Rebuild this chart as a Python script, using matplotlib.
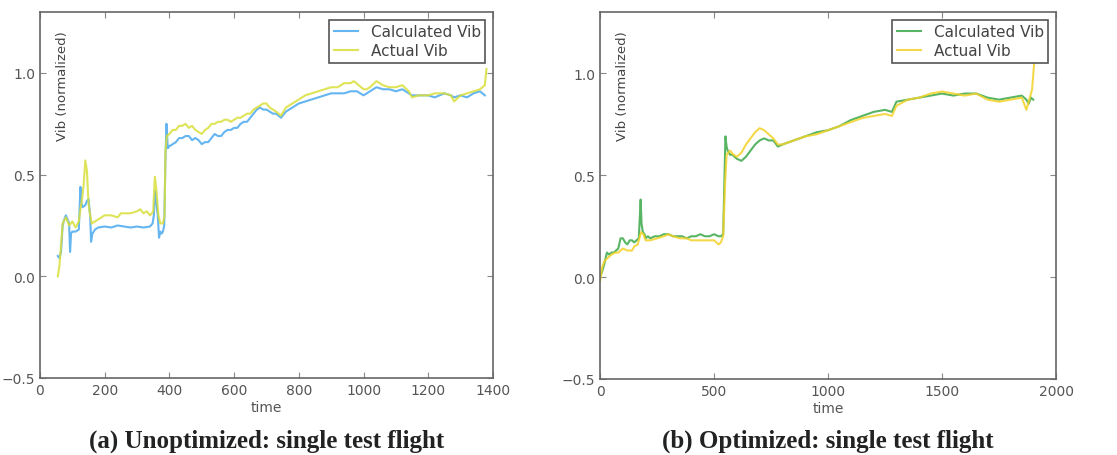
import matplotlib
matplotlib.use("Agg")
import matplotlib.pyplot as plt

# ---------------- data ----------------
a_calc_t = [55, 60, 65, 70, 75, 80, 85, 90, 93, 96, 100, 110, 120, 125, 128, 132, 140, 145, 150, 155, 158, 162,
            170, 180, 200, 220, 240, 260, 280, 300, 320, 340, 348, 352, 356, 360, 364, 368, 372, 376, 380, 384,
            388, 391, 395, 400, 410, 420, 430, 440, 450, 460, 470, 480, 490, 500, 510, 520, 530, 540, 550, 560,
            570, 580, 590, 600, 610, 620, 630, 640, 650, 660, 670, 680, 690, 700, 710, 720, 730, 745, 760, 770,
            780, 800, 820, 840, 860, 880, 900, 920, 940, 960, 980, 990, 1000, 1010, 1020, 1040, 1060, 1080, 1100,
            1120, 1140, 1150, 1170, 1200, 1220, 1250, 1270, 1280, 1300, 1320, 1340, 1360, 1375]
a_calc_v = [0.10, 0.09, 0.12, 0.25, 0.28, 0.30, 0.28, 0.26, 0.12, 0.21, 0.22, 0.22, 0.23, 0.44, 0.36, 0.34, 0.35,
            0.37, 0.38, 0.30, 0.17, 0.21, 0.23, 0.24, 0.245, 0.24, 0.25, 0.245, 0.24, 0.245, 0.24, 0.245, 0.26,
            0.30, 0.42, 0.36, 0.30, 0.19, 0.22, 0.21, 0.22, 0.25, 0.60, 0.75, 0.63, 0.64, 0.65, 0.66, 0.68, 0.68,
            0.69, 0.69, 0.67, 0.68, 0.67, 0.65, 0.66, 0.66, 0.68, 0.70, 0.69, 0.69, 0.71, 0.72, 0.72, 0.73, 0.73,
            0.75, 0.76, 0.76, 0.78, 0.80, 0.82, 0.83, 0.82, 0.82, 0.81, 0.80, 0.80, 0.78, 0.81, 0.82, 0.83, 0.85,
            0.86, 0.87, 0.88, 0.89, 0.90, 0.90, 0.90, 0.91, 0.91, 0.90, 0.89, 0.90, 0.91, 0.93, 0.92, 0.92, 0.91,
            0.92, 0.90, 0.89, 0.89, 0.89, 0.88, 0.90, 0.89, 0.88, 0.89, 0.88, 0.90, 0.91, 0.89]
a_act_t = [55, 60, 65, 70, 80, 90, 100, 110, 120, 125, 130, 135, 140, 145, 150, 155, 160, 170, 180, 190, 200, 220,
           240, 250, 260, 280, 300, 310, 320, 330, 340, 346, 350, 355, 360, 366, 372, 380, 385, 388, 392, 400, 410,
           420, 430, 440, 450, 460, 470, 480, 490, 500, 510, 520, 530, 540, 550, 560, 570, 580, 590, 600, 610, 620,
           630, 640, 650, 660, 670, 680, 690, 700, 710, 720, 730, 745, 760, 770, 780, 800, 820, 840, 860, 880, 900,
           920, 940, 960, 970, 985, 1000, 1010, 1020, 1040, 1060, 1080, 1100, 1120, 1140, 1150, 1170, 1200, 1220,
           1250, 1270, 1280, 1300, 1320, 1340, 1360, 1375, 1380]
a_act_v = [0.0, 0.05, 0.15, 0.26, 0.29, 0.25, 0.27, 0.24, 0.27, 0.33, 0.38, 0.45, 0.57, 0.52, 0.36, 0.30, 0.26,
           0.27, 0.28, 0.29, 0.30, 0.30, 0.29, 0.31, 0.31, 0.31, 0.32, 0.33, 0.31, 0.32, 0.30, 0.31, 0.32, 0.49,
           0.42, 0.30, 0.26, 0.26, 0.30, 0.62, 0.69, 0.70, 0.72, 0.72, 0.74, 0.74, 0.75, 0.73, 0.74, 0.72, 0.71,
           0.70, 0.72, 0.73, 0.75, 0.75, 0.76, 0.76, 0.77, 0.77, 0.76, 0.77, 0.78, 0.78, 0.79, 0.80, 0.80, 0.82,
           0.83, 0.84, 0.85, 0.85, 0.83, 0.82, 0.81, 0.79, 0.83, 0.84, 0.85, 0.87, 0.89, 0.90, 0.91, 0.92, 0.93,
           0.93, 0.95, 0.95, 0.96, 0.94, 0.92, 0.92, 0.93, 0.96, 0.94, 0.93, 0.93, 0.94, 0.91, 0.88, 0.89, 0.89,
           0.90, 0.90, 0.89, 0.86, 0.89, 0.90, 0.91, 0.92, 0.94, 1.02]

b_calc_t = [0, 10, 20, 30, 40, 50, 60, 70, 80, 90, 100, 110, 120, 130, 140, 150, 160, 170, 178, 182, 188, 195, 200,
            210, 220, 240, 260, 280, 300, 320, 340, 360, 380, 400, 420, 440, 460, 480, 500, 520, 530, 540, 545,
            550, 555, 560, 570, 580, 600, 620, 640, 660, 680, 700, 720, 740, 760, 780, 800, 850, 900, 950, 1000,
            1050, 1100, 1150, 1200, 1250, 1280, 1300, 1350, 1400, 1450, 1500, 1550, 1600, 1650, 1700, 1750,
            1800, 1850, 1870, 1880, 1890, 1900]
b_calc_v = [0.0, 0.03, 0.07, 0.12, 0.11, 0.12, 0.12, 0.13, 0.14, 0.19, 0.19, 0.17, 0.16, 0.18, 0.18, 0.17, 0.18,
            0.19, 0.38, 0.26, 0.22, 0.21, 0.19, 0.20, 0.19, 0.20, 0.20, 0.21, 0.21, 0.20, 0.20, 0.20, 0.19, 0.20,
            0.20, 0.21, 0.20, 0.20, 0.21, 0.20, 0.20, 0.21, 0.45, 0.69, 0.64, 0.62, 0.60, 0.60, 0.58, 0.57, 0.59,
            0.62, 0.65, 0.67, 0.68, 0.67, 0.67, 0.64, 0.65, 0.67, 0.69, 0.71, 0.72, 0.74, 0.77, 0.79, 0.81, 0.82,
            0.81, 0.86, 0.87, 0.88, 0.89, 0.90, 0.89, 0.90, 0.90, 0.88, 0.87, 0.88, 0.89, 0.87, 0.85, 0.88, 0.87]
b_act_t = [0, 10, 20, 30, 50, 65, 80, 100, 120, 140, 150, 165, 180, 190, 200, 220, 250, 280, 300, 320, 350, 380,
           400, 450, 500, 520, 530, 540, 548, 555, 570, 585, 600, 620, 640, 660, 680, 700, 720, 740, 760, 780,
           800, 850, 900, 950, 1000, 1050, 1100, 1150, 1200, 1250, 1280, 1300, 1350, 1400, 1450, 1500, 1550,
           1600, 1650, 1700, 1750, 1800, 1850, 1870, 1880, 1895, 1905]
b_act_v = [-0.02, 0.05, 0.08, 0.09, 0.11, 0.12, 0.12, 0.14, 0.13, 0.13, 0.15, 0.16, 0.22, 0.21, 0.18, 0.18, 0.19,
           0.20, 0.21, 0.20, 0.19, 0.19, 0.18, 0.18, 0.18, 0.16, 0.17, 0.20, 0.45, 0.60, 0.62, 0.60, 0.59, 0.61,
           0.65, 0.68, 0.71, 0.73, 0.72, 0.70, 0.68, 0.65, 0.65, 0.67, 0.69, 0.70, 0.72, 0.74, 0.76, 0.78, 0.79,
           0.80, 0.79, 0.84, 0.87, 0.88, 0.90, 0.91, 0.90, 0.89, 0.90, 0.87, 0.86, 0.87, 0.88, 0.82, 0.86, 0.92,
           1.06]

legend_labels = ["Calculated Vib", "Actual Vib"]
captions = ["(a) Unoptimized: single test flight", "(b) Optimized: single test flight"]

# ---------------- drawing ----------------
fig = plt.figure(figsize=(11.17, 4.56), dpi=100)
gray = "#555555"

panels = [
    dict(rect=[0.0358, 0.1689, 0.4055, 0.8026], xlim=(0, 1400), xticks=[0, 200, 400, 600, 800, 1000, 1200, 1400],
         data=[(a_calc_t, a_calc_v, "#4aa8ee"), (a_act_t, a_act_v, "#d9df3a")], cap=captions[0]),
    dict(rect=[0.5372, 0.1667, 0.4082, 0.8048], xlim=(0, 2000), xticks=[0, 500, 1000, 1500, 2000],
         data=[(b_calc_t, b_calc_v, "#3aa849"), (b_act_t, b_act_v, "#f3d22a")], cap=captions[1]),
]

for p in panels:
    ax = fig.add_axes(p["rect"])
    for (t, v, c), lab in zip(p["data"], legend_labels):
        ax.plot(t, v, color=c, lw=1.5, alpha=0.85, label=lab)
    ax.set_xlim(*p["xlim"])
    ax.set_ylim(-0.5, 1.3)
    ax.set_xticks(p["xticks"])
    ax.set_yticks([-0.5, 0.0, 0.5, 1.0])
    ax.set_yticklabels(["\u22120.5", "0.0", "0.5", "1.0"])
    ax.tick_params(direction="in", top=True, right=True, length=4, width=0.8,
                   colors="#888888", labelcolor=gray, labelsize=10)
    for s in ax.spines.values():
        s.set_color("#666666")
        s.set_linewidth(1.2)
    ax.set_xlabel("time", color=gray, fontsize=10, labelpad=2)
    ax.text(0.05, 0.80, "Vib (normalized)", rotation=90, transform=ax.transAxes,
            ha="center", va="center", color="#444444", fontsize=9.5)
    leg = ax.legend(loc="upper right", fontsize=11, handlelength=1.6, borderpad=0.3,
                    labelspacing=0.25, fancybox=False, borderaxespad=0.5, framealpha=1)
    leg.get_frame().set_edgecolor("#555555")
    leg.get_frame().set_linewidth(1.2)
    for txt in leg.get_texts():
        txt.set_color("#444444")
    cx = p["rect"][0] + p["rect"][2] / 2
    fig.text(cx, 0.032, p["cap"], ha="center", va="center", fontsize=18, fontweight="bold",
             family="Liberation Serif", color="#222222")

fig.savefig("out.png", dpi=100)
